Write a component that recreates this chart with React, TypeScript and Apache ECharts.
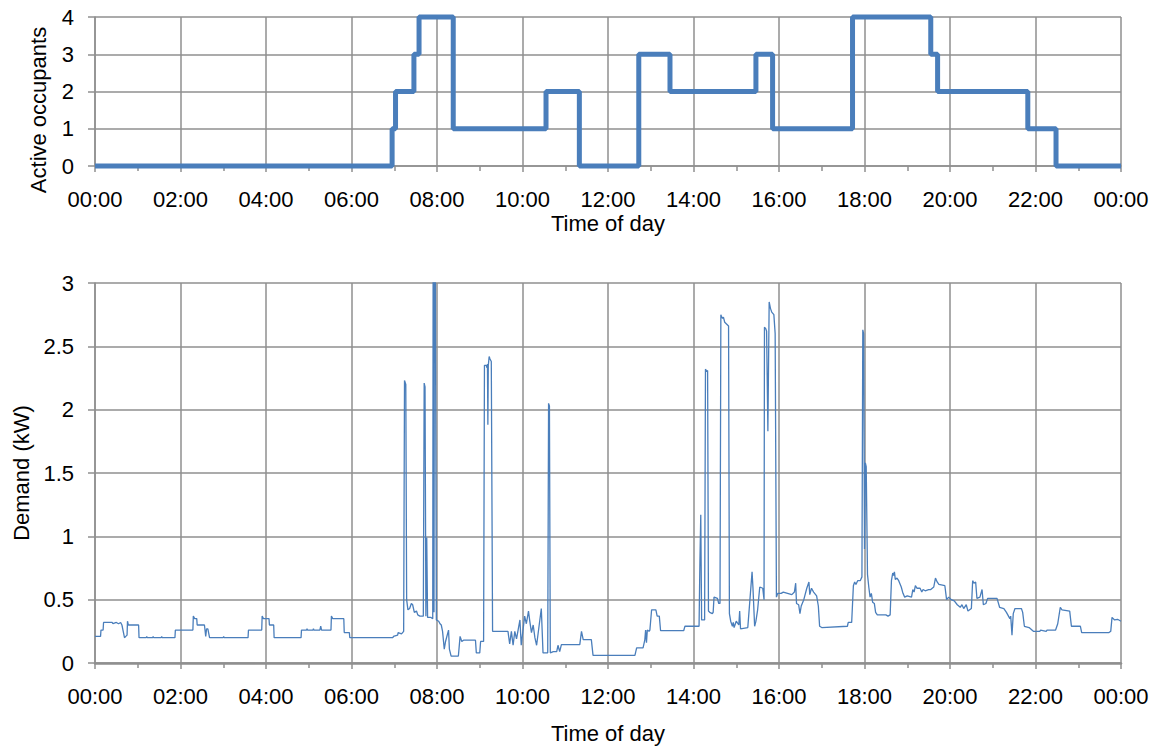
import React, { useEffect, useRef } from 'react';
import * as echarts from 'echarts';

const timeLabels = ['00:00', '02:00', '04:00', '06:00', '08:00', '10:00', '12:00', '14:00', '16:00', '18:00', '20:00', '22:00', '00:00'];

// [hour of day, active occupants] – value holds from that hour on
const occupancyChanges: [number, number][] = [
  [0, 0], [6.95, 1], [7.03, 2], [7.46, 3], [7.58, 4], [8.38, 1], [10.55, 2], [11.33, 0],
  [12.72, 3], [13.45, 2], [15.46, 3], [15.85, 1], [17.72, 4], [19.55, 3], [19.71, 2],
  [21.82, 1], [22.48, 0], [24, 0],
];

// [hour of day, demand kW]
const demandReadings: [number, number][] = [
  [0.00, 0.21], [0.13, 0.21], [0.14, 0.26], [0.19, 0.26], [0.20, 0.32], [0.40, 0.32], [0.42, 0.31], [0.50, 0.32], [0.55, 0.31], [0.60, 0.32], [0.63, 0.30], [0.66, 0.25], [0.69, 0.20], [0.72, 0.21], [0.75, 0.22], [0.76, 0.33], [0.78, 0.30], [1.02, 0.30], [1.03, 0.20],
  [1.20, 0.20], [1.21, 0.21], [1.22, 0.20], [1.35, 0.20], [1.36, 0.21], [1.37, 0.20], [1.55, 0.20], [1.56, 0.21], [1.57, 0.20], [1.87, 0.20], [1.88, 0.26], [2.29, 0.26], [2.30, 0.37], [2.33, 0.35], [2.38, 0.35], [2.39, 0.30], [2.56, 0.30], [2.57, 0.27], [2.59, 0.21], [2.61, 0.27], [2.64, 0.27], [2.68, 0.20],
  [3.00, 0.20], [3.01, 0.21], [3.02, 0.20], [3.58, 0.20], [3.59, 0.26], [3.90, 0.26], [3.91, 0.37], [3.94, 0.35], [4.07, 0.35], [4.08, 0.30], [4.18, 0.30], [4.19, 0.20], [4.82, 0.20], [4.83, 0.26], [4.95, 0.26], [4.96, 0.27], [4.97, 0.26], [5.10, 0.26], [5.11, 0.27], [5.12, 0.26], [5.26, 0.26], [5.28, 0.29], [5.30, 0.26], [5.52, 0.26], [5.53, 0.37], [5.56, 0.35], [5.82, 0.35], [5.83, 0.24], [5.95, 0.24], [5.96, 0.20],
  [6.97, 0.20], [6.98, 0.21], [7.08, 0.22], [7.09, 0.24], [7.17, 0.23], [7.22, 0.25], [7.24, 2.23], [7.27, 2.20], [7.29, 0.50], [7.32, 0.42], [7.36, 0.43], [7.40, 0.47], [7.43, 0.46], [7.47, 0.40], [7.52, 0.41], [7.55, 0.38], [7.60, 0.37], [7.68, 0.37], [7.70, 2.21], [7.72, 2.18], [7.74, 0.37], [7.76, 0.99], [7.78, 0.36], [7.82, 0.36], [7.86, 0.36], [7.90, 0.35], [7.91, 3.3], [7.93, 0.40], [7.94, 3.3], [7.96, 3.3], [7.985, 0.34],
  [8.04, 0.33], [8.07, 0.31], [8.10, 0.30], [8.13, 0.25], [8.17, 0.11], [8.20, 0.17], [8.27, 0.26], [8.29, 0.11], [8.33, 0.055], [8.50, 0.055], [8.54, 0.21], [8.58, 0.17], [8.62, 0.18], [8.90, 0.18], [8.92, 0.08], [9.00, 0.08], [9.02, 0.17], [9.09, 0.17], [9.11, 2.35], [9.15, 2.35], [9.17, 2.33], [9.18, 2.36], [9.19, 1.88], [9.20, 2.35], [9.22, 2.42], [9.24, 2.40], [9.27, 2.38], [9.30, 0.25], [9.62, 0.25], [9.66, 0.25], [9.70, 0.15], [9.74, 0.25], [9.78, 0.14], [9.82, 0.25], [9.86, 0.19], [9.94, 0.34], [9.97, 0.14],
  [10.05, 0.37], [10.09, 0.31], [10.14, 0.41], [10.17, 0.33], [10.21, 0.24], [10.25, 0.30], [10.29, 0.20], [10.33, 0.14], [10.44, 0.43], [10.48, 0.08], [10.59, 0.08], [10.61, 2.05], [10.63, 2.03], [10.65, 0.08], [10.72, 0.09], [10.80, 0.09], [10.83, 0.14], [10.87, 0.09], [10.91, 0.145], [11.34, 0.145], [11.38, 0.25], [11.42, 0.185], [11.61, 0.185], [11.65, 0.06], [12.63, 0.06], [12.67, 0.12], [12.82, 0.12], [12.86, 0.18], [12.88, 0.26], [12.90, 0.16], [12.92, 0.26], [12.96, 0.25], [12.98, 0.26],
  [13.02, 0.42], [13.12, 0.42], [13.15, 0.37], [13.20, 0.37], [13.23, 0.255], [13.77, 0.255], [13.80, 0.29], [14.13, 0.29], [14.15, 0.80], [14.17, 1.17], [14.19, 0.34], [14.26, 0.34], [14.28, 2.32], [14.31, 2.30], [14.33, 2.31], [14.35, 0.41], [14.38, 0.40], [14.44, 0.39], [14.46, 0.40], [14.48, 0.52], [14.56, 0.51], [14.59, 0.47], [14.62, 0.47], [14.64, 2.75], [14.66, 2.73], [14.68, 2.72], [14.70, 2.73], [14.73, 2.69], [14.76, 2.68], [14.82, 2.66], [14.84, 0.39], [14.87, 0.33], [14.91, 0.29], [14.93, 0.32], [14.95, 0.28],
  [15.00, 0.33], [15.06, 0.30], [15.08, 0.41], [15.10, 0.27], [15.27, 0.28], [15.32, 0.50], [15.37, 0.72], [15.39, 0.60], [15.43, 0.29], [15.46, 0.33], [15.50, 0.42], [15.55, 0.60], [15.62, 0.59], [15.65, 0.50], [15.66, 2.65], [15.69, 2.64], [15.71, 2.62], [15.74, 1.83], [15.77, 2.85], [15.80, 2.80], [15.83, 2.77], [15.88, 2.75], [15.91, 2.60], [15.94, 0.52], [15.97, 0.55],
  [16.05, 0.55], [16.10, 0.56], [16.20, 0.55], [16.30, 0.54], [16.36, 0.56], [16.39, 0.63], [16.41, 0.47], [16.46, 0.46], [16.49, 0.39], [16.52, 0.45], [16.58, 0.50], [16.65, 0.59], [16.70, 0.64], [16.72, 0.54], [16.76, 0.59], [16.81, 0.56], [16.88, 0.53], [16.92, 0.45], [16.95, 0.29], [17.00, 0.28], [17.60, 0.29], [17.62, 0.32], [17.70, 0.32], [17.74, 0.61], [17.77, 0.64], [17.80, 0.62], [17.84, 0.65], [17.90, 0.65], [17.94, 0.68], [17.96, 2.63], [17.98, 2.60],
  [18.00, 0.90], [18.02, 1.58], [18.04, 1.55], [18.07, 0.70], [18.10, 0.60], [18.13, 0.52], [18.16, 0.55], [18.19, 0.48], [18.23, 0.47], [18.26, 0.40], [18.30, 0.38], [18.50, 0.38], [18.55, 0.37], [18.60, 0.38], [18.63, 0.65], [18.66, 0.71], [18.68, 0.69], [18.70, 0.72], [18.72, 0.66], [18.76, 0.67], [18.80, 0.65], [18.86, 0.60], [18.90, 0.55], [18.94, 0.52],
  [19.00, 0.53], [19.10, 0.52], [19.13, 0.58], [19.16, 0.56], [19.19, 0.61], [19.23, 0.59], [19.30, 0.59], [19.34, 0.56], [19.37, 0.58], [19.42, 0.57], [19.50, 0.58], [19.55, 0.58], [19.62, 0.60], [19.66, 0.67], [19.70, 0.64], [19.74, 0.62], [19.88, 0.61], [19.92, 0.50], [19.97, 0.52],
  [20.03, 0.50], [20.10, 0.49], [20.17, 0.46], [20.24, 0.44], [20.28, 0.46], [20.32, 0.43], [20.38, 0.46], [20.42, 0.41], [20.50, 0.43], [20.53, 0.65], [20.56, 0.63], [20.60, 0.64], [20.63, 0.51], [20.70, 0.52], [20.75, 0.58], [20.78, 0.46], [20.84, 0.47], [20.88, 0.51],
  [21.10, 0.51], [21.16, 0.44], [21.26, 0.43], [21.32, 0.40], [21.40, 0.35], [21.42, 0.37], [21.45, 0.22], [21.48, 0.39], [21.52, 0.43], [21.67, 0.43], [21.70, 0.40], [21.74, 0.29], [21.85, 0.28], [21.95, 0.25],
  [22.10, 0.25], [22.12, 0.26], [22.25, 0.25], [22.27, 0.26], [22.47, 0.26], [22.52, 0.31], [22.58, 0.44], [22.62, 0.42], [22.80, 0.41], [22.84, 0.29], [23.05, 0.29], [23.08, 0.24], [23.72, 0.24], [23.76, 0.25], [23.79, 0.36], [23.85, 0.34], [23.92, 0.345], [24.00, 0.33],
];

const FONT = '"Liberation Sans", Arial, sans-serif';
const GRID_COLOR = '#8f8f8f';
const LINE_COLOR = '#4a7ebb';
const FS = 22;

function makeXAxis(gridIndex: number, nameGap: number, axisWidth: number) {
  return {
    type: 'value',
    gridIndex,
    min: 0,
    max: 24,
    interval: 2,
    name: 'Time of day',
    nameLocation: 'middle',
    nameGap,
    nameTextStyle: { fontFamily: FONT, fontSize: FS, color: '#000' },
    axisLine: { show: true, onZero: false, lineStyle: { color: GRID_COLOR, width: axisWidth } },
    axisTick: { show: true, length: 6, lineStyle: { color: GRID_COLOR, width: 1.5 } },
    minorTick: { show: true, splitNumber: 2, length: 5, lineStyle: { color: GRID_COLOR, width: 1.5 } },
    splitLine: { show: true, lineStyle: { color: GRID_COLOR, width: 1.5 } },
    axisLabel: {
      formatter: (v: number) => timeLabels[Math.round(v / 2)],
      fontFamily: FONT,
      fontSize: FS,
      color: '#000',
      margin: 22,
    },
  };
}

function makeYAxis(gridIndex: number, max: number, interval: number) {
  return {
    type: 'value',
    gridIndex,
    min: 0,
    max,
    interval,
    axisLine: { show: true, lineStyle: { color: GRID_COLOR, width: 1.5 } },
    axisTick: { show: true, length: 7, lineStyle: { color: GRID_COLOR, width: 1.5 } },
    splitLine: { show: true, lineStyle: { color: GRID_COLOR, width: 1.5 } },
    axisLabel: { fontFamily: FONT, fontSize: FS, color: '#000', margin: 21 },
  };
}

export default function App() {
  const ref = useRef<HTMLDivElement>(null);

  useEffect(() => {
    if (!ref.current) return;
    const chart = echarts.init(ref.current, null, { renderer: 'svg' });
    const bottomY: any = makeYAxis(1, 3, 0.5);
    bottomY.name = 'Demand (kW)';
    bottomY.nameLocation = 'middle';
    bottomY.nameGap = 60;
    bottomY.nameRotate = 90;
    bottomY.nameTextStyle = { fontFamily: FONT, fontSize: FS, color: '#000' };

    chart.setOption({
      animation: false,
      backgroundColor: '#ffffff',
      grid: [
        { left: 95, top: 17, width: 1026, height: 149, containLabel: false },
        { left: 95, top: 283, width: 1026, height: 384, containLabel: false },
      ],
      xAxis: [makeXAxis(0, 46, 1.5), makeXAxis(1, 59, 2.5)],
      yAxis: [makeYAxis(0, 4, 1), bottomY],
      graphic: [
        {
          type: 'text',
          x: 38,
          y: 110,
          rotation: Math.PI / 2,
          style: {
            text: 'Active occupants',
            fontFamily: FONT,
            fontSize: FS,
            fill: '#000',
            align: 'center',
            verticalAlign: 'middle',
          },
        },
      ],
      series: [
        {
          type: 'line',
          xAxisIndex: 0,
          yAxisIndex: 0,
          step: 'end',
          data: occupancyChanges,
          showSymbol: false,
          clip: false,
          lineStyle: { color: LINE_COLOR, width: 5 },
          itemStyle: { color: LINE_COLOR },
          silent: true,
        },
        {
          type: 'line',
          xAxisIndex: 1,
          yAxisIndex: 1,
          data: demandReadings,
          showSymbol: false,
          clip: true,
          lineStyle: { color: LINE_COLOR, width: 1.3 },
          itemStyle: { color: LINE_COLOR },
          silent: true,
        },
      ],
    });
    return () => chart.dispose();
  }, []);

  return (
    <div
      ref={ref}
      style={{ position: 'absolute', left: 0, top: 0, width: 1160, height: 749, background: '#fff' }}
    />
  );
}
